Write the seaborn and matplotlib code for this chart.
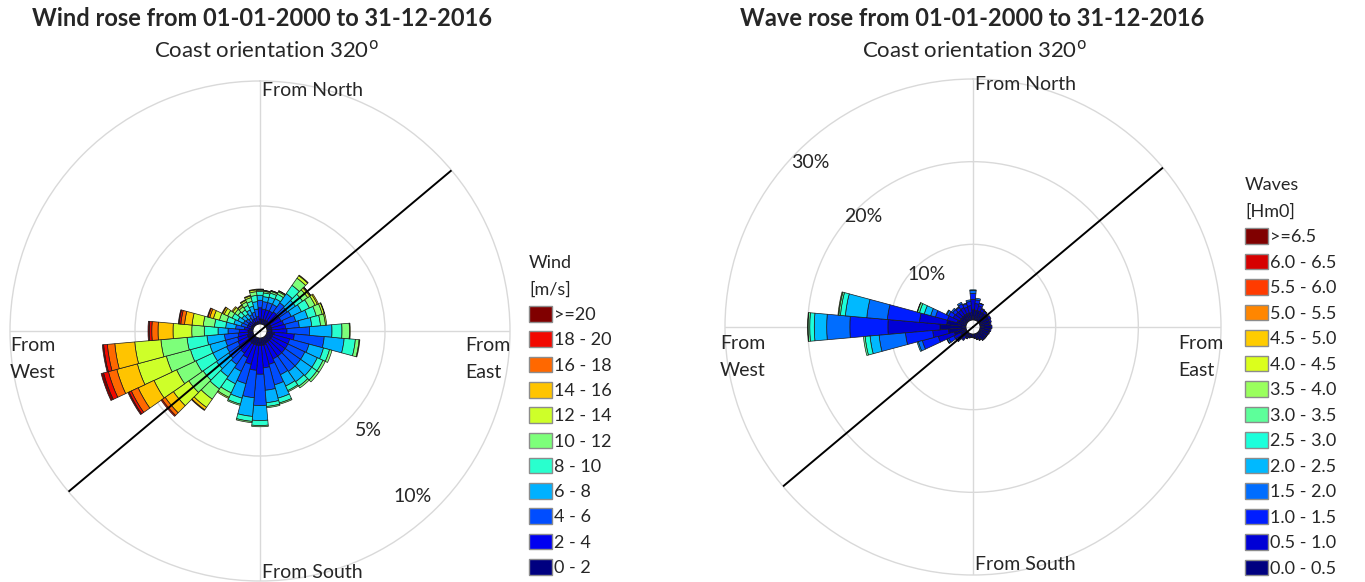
import numpy as np
import pandas as pd
import seaborn as sns
import matplotlib.pyplot as plt
from matplotlib.patches import Patch

sns.set_style('white')
plt.rcParams['font.family'] = ['Lato', 'DejaVu Sans']

W, H = 1365, 582

directions = [0, 10, 20, 30, 40, 50, 60, 70, 80, 90, 100, 110,
              120, 130, 140, 150, 160, 170, 180, 190, 200, 210, 220, 230,
              240, 250, 260, 270, 280, 290, 300, 310, 320, 330, 340, 350]
coast_orientation = 320

# wind speed classes [m/s], percent of time per 10 degree sector
wind_labels = ['0 - 2', '2 - 4', '4 - 6', '6 - 8', '8 - 10', '10 - 12',
               '12 - 14', '14 - 16', '16 - 18', '18 - 20', '>=20']
wind_0_2 = [.2, .2, .2, .2, .2, .2, .2, .2, .2, .2, .3, .25, .25, .25, .25, .25, .3, .3,
            .3, .3, .3, .3, .3, .3, .25, .25, .2, .2, .15, .1, .1, .1, .1, .1, .1, .1]
wind_2_4 = [.45, .4, .4, .4, .45, .45, .45, .5, .55, .6, .8, .7, .7, .7, .7, .7, .8, .9,
            1.15, 1.0, .8, .6, .5, .45, .45, .4, .4, .35, .2, .15, .15, .15, .1, .15, .15, .2]
wind_4_6 = [.3, .3, .3, .3, .45, .4, .45, .5, .55, .9, 1.2, .8, .75, .75, .75, .7, .85, .9,
            1.25, 1.1, .8, .6, .55, .5, .5, .5, .55, .45, .35, .25, .2, .15, .15, .2, .25, .3]
wind_6_8 = [.2, .2, .22, .25, .45, .4, .45, .5, .5, .9, .8, .6, .55, .55, .5, .5, .55, .5,
            .6, .75, .6, .55, .6, .6, .6, .65, .7, .4, .4, .3, .25, .2, .2, .2, .25, .3]
wind_8_10 = [.15, .15, .17, .2, .4, .35, .35, .35, .35, .4, .45, .25, .25, .25, .22, .2, .2, .15,
             .2, .2, .25, .4, .6, .65, .75, .8, .8, .55, .45, .3, .25, .2, .2, .2, .2, .25]
wind_10_12 = [.05, .06, .07, .1, .35, .25, .25, .25, .2, .3, .15, .1, .1, .1, .08, .05, .05, .05,
              .05, .05, .05, .2, .5, .7, .85, 1.0, 1.05, .5, .45, .3, .2, .15, .15, .15, .15, .15]
wind_12_14 = [.03, .03, .03, .04, .12, .1, .1, .08, .05, .03, .03, 0, 0, 0, 0, 0, 0, 0,
              0, 0, 0, .05, .4, .75, 1.0, 1.2, 1.05, .75, .45, .25, .15, .1, .07, .07, .07, .07]
wind_14_16 = [.02, .01, .01, .01, .03, .04, .05, .02, 0, 0, 0, 0, 0, 0, 0, 0, 0, 0,
              0, 0, 0, 0, .12, .4, .7, .85, .8, .6, .3, .15, .07, .05, .03, .03, .03, .03]
wind_16_18 = [0, 0, 0, 0, 0, .01, 0, 0, 0, 0, 0, 0, 0, 0, 0, 0, 0, 0,
              0, 0, 0, 0, .03, .15, .3, .35, .3, .25, .15, .07, .03, 0, 0, 0, 0, 0]
wind_18_20 = [0, 0, 0, 0, 0, 0, 0, 0, 0, 0, 0, 0, 0, 0, 0, 0, 0, 0,
              0, 0, 0, 0, 0, .05, .1, .2, .15, .1, .07, .03, 0, 0, 0, 0, 0, 0]
wind_20_up = [0, 0, 0, 0, 0, 0, 0, 0, 0, 0, 0, 0, 0, 0, 0, 0, 0, 0,
              0, 0, 0, 0, 0, 0, .05, .1, .05, .05, .03, 0, 0, 0, 0, 0, 0, 0]

# wave height classes [Hm0], percent of time per 10 degree sector
wave_labels = ['0.0 - 0.5', '0.5 - 1.0', '1.0 - 1.5', '1.5 - 2.0', '2.0 - 2.5',
               '2.5 - 3.0', '3.0 - 3.5', '3.5 - 4.0', '4.0 - 4.5', '4.5 - 5.0',
               '5.0 - 5.5', '5.5 - 6.0', '6.0 - 6.5', '>=6.5']
wave_00_05 = [1.3, 1.2, 1.2, 1.2, 1.2, 1.2, 1.25, 1.25, 1.2, 1.25, 1.2, 1.15, 1.1, 1.1, 1.1, .9, .7, .5,
              .4, .4, .45, .5, .6, .7, .8, 1.5, 2.15, 3.15, 2.35, 1.15, .9, .9, .9, .9, .9, .9]
wave_05_10 = [1.2, .8, .6, .35, .3, .25, .3, .2, .15, .2, .15, .1, .05, .05, .05, .05, .05, .05,
              .05, .05, .1, .2, .4, .6, .9, 2.0, 1.9, 6.3, 3.3, 1.2, .9, .8, .75, .85, .75, .85]
wave_10_15 = [.7, .45, .3, .1, .05, 0, 0, 0, 0, 0, 0, 0, 0, 0, 0, 0, 0, 0,
              0, 0, 0, .05, .15, .3, .7, 2.0, 3.3, 4.6, 3.9, 1.5, .6, .45, .4, .5, .4, .5]
wave_15_20 = [.35, .2, .05, 0, 0, 0, 0, 0, 0, 0, 0, 0, 0, 0, 0, 0, 0, 0,
              0, 0, 0, 0, 0, .05, .2, .5, 3.2, 2.8, 2.5, .6, .25, .2, .1, .2, .1, .2]
wave_20_25 = [.1, 0, 0, 0, 0, 0, 0, 0, 0, 0, 0, 0, 0, 0, 0, 0, 0, 0,
              0, 0, 0, 0, 0, 0, .05, .15, 1.1, 1.5, 2.6, .8, .1, 0, 0, 0, 0, 0]
wave_25_30 = [0, 0, 0, 0, 0, 0, 0, 0, 0, 0, 0, 0, 0, 0, 0, 0, 0, 0,
              0, 0, 0, 0, 0, 0, 0, 0, .6, .55, .6, .6, 0, 0, 0, 0, 0, 0]
wave_30_35 = [0, 0, 0, 0, 0, 0, 0, 0, 0, 0, 0, 0, 0, 0, 0, 0, 0, 0,
              0, 0, 0, 0, 0, 0, 0, 0, .2, .2, .2, .25, 0, 0, 0, 0, 0, 0]
wave_35_40 = [0, 0, 0, 0, 0, 0, 0, 0, 0, 0, 0, 0, 0, 0, 0, 0, 0, 0,
              0, 0, 0, 0, 0, 0, 0, 0, 0, .05, .1, .05, 0, 0, 0, 0, 0, 0]
# no waves above 4.0 m recorded

wind_df = pd.DataFrame(dict(zip(wind_labels, [wind_0_2, wind_2_4, wind_4_6, wind_6_8, wind_8_10,
                                              wind_10_12, wind_12_14, wind_14_16, wind_16_18,
                                              wind_18_20, wind_20_up])), index=directions)
wave_df = pd.DataFrame(dict(zip(wave_labels, [wave_00_05, wave_05_10, wave_10_15, wave_15_20,
                                              wave_20_25, wave_25_30, wave_30_35, wave_35_40])),
                       index=directions)

jet = plt.get_cmap('jet')
wind_colors = sns.color_palette(jet(np.linspace(0, 1, len(wind_labels)))[:, :3])
wave_colors = sns.color_palette(jet(np.linspace(0, 1, len(wave_labels)))[:, :3])

fig = plt.figure(figsize=(W / 100, H / 100), dpi=100)


def px(x, y):
    return x / W, 1 - y / H


def rose(rect, df, labels, colors, hole, rmax, rings):
    ax = fig.add_axes(rect, projection='polar')
    ax.set_theta_zero_location('N')
    ax.set_theta_direction(-1)
    theta = np.deg2rad(df.index.to_numpy())
    bottom = np.full(len(df), hole)
    for lab, col in zip(labels, colors):
        if lab not in df:
            continue
        vals = df[lab].to_numpy()
        m = vals > 0
        ax.bar(theta[m], vals[m], width=np.deg2rad(10), bottom=bottom[m], color=col,
               edgecolor='#1a1a1a', linewidth=0.5, zorder=3)
        bottom = bottom + vals
    # coast line
    c = np.deg2rad(coast_orientation - 270)
    ax.plot([c, c], [0, rmax], color='black', lw=1.4, zorder=4)
    ax.plot([c + np.pi, c + np.pi], [0, rmax], color='black', lw=1.4, zorder=4)
    ax.set_ylim(0, rmax)
    ax.set_yticks(rings)
    ax.set_yticklabels([])
    ax.set_xticks(np.deg2rad([0, 90, 180, 270]))
    ax.set_xticklabels([])
    ax.grid(color='#d9d9d9', lw=1)
    ax.set_axisbelow(True)
    ax.spines['polar'].set_color('#d9d9d9')
    ax.spines['polar'].set_linewidth(1)
    return ax


ax1 = rose([10 / W, 1 / H, 500 / W, 500 / H], wind_df, wind_labels, wind_colors, 0.28, 10, [5])
ax2 = rose([725 / W, 7 / H, 496 / W, 496 / H], wave_df, wave_labels, wave_colors, 0.85, 30, [10, 20])

tfs, sfs, fs = 17, 16, 14
fig.text(*px(262, 18), 'Wind rose from 01-01-2000 to 31-12-2016', ha='center', va='center',
         fontsize=tfs, fontweight='bold')
fig.text(*px(266, 50), 'Coast orientation 320$^{\\mathrm{o}}$', ha='center', va='center', fontsize=sfs)
fig.text(*px(972, 18), 'Wave rose from 01-01-2000 to 31-12-2016', ha='center', va='center',
         fontsize=tfs, fontweight='bold')
fig.text(*px(974, 50), 'Coast orientation 320$^{\\mathrm{o}}$', ha='center', va='center', fontsize=sfs)

for x0, xw, xe, yn, ys, ym in [(262, 10, 465, 90, 572, 359), (975, 720, 1178, 85, 565, 357)]:
    fig.text(*px(x0, yn), 'From North', ha='left', va='center', fontsize=fs)
    fig.text(*px(x0, ys), 'From South', ha='left', va='center', fontsize=fs)
    fig.text(*px(xw, ym), 'From\nWest', ha='left', va='center', fontsize=fs, linespacing=1.7)
    fig.text(*px(xe, ym), 'From\nEast', ha='left', va='center', fontsize=fs, linespacing=1.7)

for x, y, s in [(368, 430, '5%'), (413, 497, '10%'), (927, 275, '10%'), (863, 217, '20%'), (810, 162, '30%')]:
    fig.text(*px(x, y), s, ha='center', va='center', fontsize=fs)

for lbls, cols, title, xy, sp in [(wind_labels, wind_colors, 'Wind\n[m/s]', (529, 255), 0.46),
                                  (wave_labels, wave_colors, 'Waves\n[Hm0]', (1245, 177), 0.47)]:
    handles = [Patch(facecolor=c, edgecolor='#8c8c8c', label=l) for l, c in zip(lbls, cols)][::-1]
    leg = fig.legend(handles=handles, title=title, loc='upper left', bbox_to_anchor=px(*xy),
                     frameon=False, fontsize=13, title_fontsize=13, alignment='left',
                     handlelength=1.25, handleheight=0.95, handletextpad=0.15,
                     labelspacing=sp, borderpad=0, borderaxespad=0)
    leg.get_title().set_linespacing(1.8)

fig.savefig('out.png', dpi=100)
